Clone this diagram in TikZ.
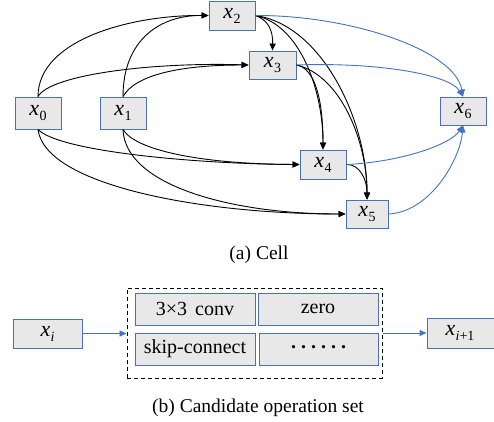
\documentclass[tikz,border=0pt]{standalone}
\usepackage{fontspec}
\setmainfont{Liberation Serif}
\usetikzlibrary{arrows.meta}
\definecolor{boxfill}{RGB}{232,232,232}
\definecolor{boxline}{RGB}{76,112,180}
\definecolor{flow}{RGB}{68,114,196}
% italic x with a lowered index
\newcommand\xsub[1]{{\fontsize{22}{24}\selectfont\textit{x}}\kern0.3pt\raisebox{-0.55ex}{\fontsize{14}{14}\selectfont #1}}
\begin{document}
\begin{tikzpicture}[x=1pt,y=-1pt,
  box/.style={draw=boxline, fill=boxfill, line width=0.9pt, inner sep=0pt,
    font=\fontsize{20}{24}\selectfont},
  edge/.style={line width=0.9pt, -{Triangle[length=7pt,width=6pt]}},
  bedge/.style={edge, draw=flow, color=flow},
  caption/.style={font=\fontsize{19.5}{22}\selectfont}
]
\useasboundingbox (0,0) rectangle (494,421);

% ---- cell nodes
\node[box, minimum width=46pt, minimum height=32pt] (x0) at (38,113) {\xsub{0}};
\node[box, minimum width=46pt, minimum height=32pt] (x1) at (123,113) {\xsub{1}};
\node[box, minimum width=46pt, minimum height=29pt] (x2) at (232,15.5) {\xsub{2}};
\node[box, minimum width=47pt, minimum height=28pt] (x3) at (272.5,65) {\xsub{3}};
\node[box, minimum width=46pt, minimum height=29pt] (x4) at (323,164.5) {\xsub{4}};
\node[box, minimum width=42pt, minimum height=28pt] (x5) at (367,214) {\xsub{5}};
\node[box, minimum width=46pt, minimum height=28pt] (x6) at (463,111) {\xsub{6}};

% ---- edges into x2 and x3
\draw[edge] (x0.north) .. controls (38,40) and (130,15) .. (x2.west);
\draw[edge] (x0.north) .. controls (50,75) and (150,62) .. (x3.west);
\draw[edge] (x1.north) .. controls (123,40) and (160,15) .. (x2.west);
\draw[edge] (x1.north) .. controls (135,75) and (180,65) .. (x3.west);
% ---- edges into x4 and x5 from the inputs
\draw[edge] (x0.south) .. controls (60,152) and (200,164) .. (x4.west);
\draw[edge] (x0.south) .. controls (45,185) and (200,214) .. (x5.west);
\draw[edge] (x1.south) .. controls (135,150) and (200,164) .. (x4.west);
\draw[edge] (x1.south) .. controls (125,185) and (230,214) .. (x5.west);
% ---- edges between intermediate nodes
\draw[edge] (x2.east) .. controls (268,20) and (273,30) .. (x3.north);
\draw[edge] (x2.east) .. controls (300,25) and (323,90) .. (x4.north);
\draw[edge] (x2.east) .. controls (322,25) and (367,120) .. (x5.north);
\draw[edge] (x3.east) .. controls (315,68) and (323,100) .. (x4.north);
\draw[edge] (x3.east) .. controls (340,75) and (367,140) .. (x5.north);
\draw[edge] (x4.east) .. controls (360,164) and (367,180) .. (x5.north);
% ---- outputs into x6
\draw[bedge] (x2.east) .. controls (350,15) and (455,50) .. (x6.north);
\draw[bedge] (x3.east) .. controls (380,62) and (450,75) .. (x6.north);
\draw[bedge] (x4.east) .. controls (400,162) and (450,145) .. (x6.south);
\draw[bedge] (x5.east) .. controls (430,212) and (460,160) .. (x6.south);

\node[caption] (capA) at (259,255) {(a) Cell};

% ---- candidate operation set
\node[box, minimum width=69pt, minimum height=29pt] (xi) at (47.5,333.5) {\xsub{\textit{i}}};
\node[draw, dashed, dash pattern=on 4pt off 3pt, line width=1pt, inner sep=0pt,
      minimum width=255pt, minimum height=90pt] (ops) at (254.5,333) {};
\node[box, minimum width=120pt, minimum height=32pt] (conv) at (195,309) {3×3\hspace{8pt}conv};
\node[box, minimum width=120pt, minimum height=32pt] (zero) at (318,309) {zero};
\node[box, minimum width=120pt, minimum height=32pt] (skip) at (195,349) {skip-connect};
\node[box, minimum width=119pt, minimum height=32pt] (more) at (318.5,349)
  {\raisebox{0.35ex}{\textbf{.}\hspace{5pt}\textbf{.}\hspace{5pt}\textbf{.}\hspace{5pt}\textbf{.}\hspace{5pt}\textbf{.}\hspace{5pt}\textbf{.}}};
\node[box, minimum width=72pt, minimum height=30pt] (xn) at (463,333)
  {\kern-6pt\xsub{\textit{i}+1}};

\draw[bedge] (xi.east) -- (ops.west |- xi.east);
\draw[bedge] (ops.east |- xn.west) -- (xn.west);

\node[caption] (capB) at (258,408) {(b) Candidate operation set};
\end{tikzpicture}
\end{document}
